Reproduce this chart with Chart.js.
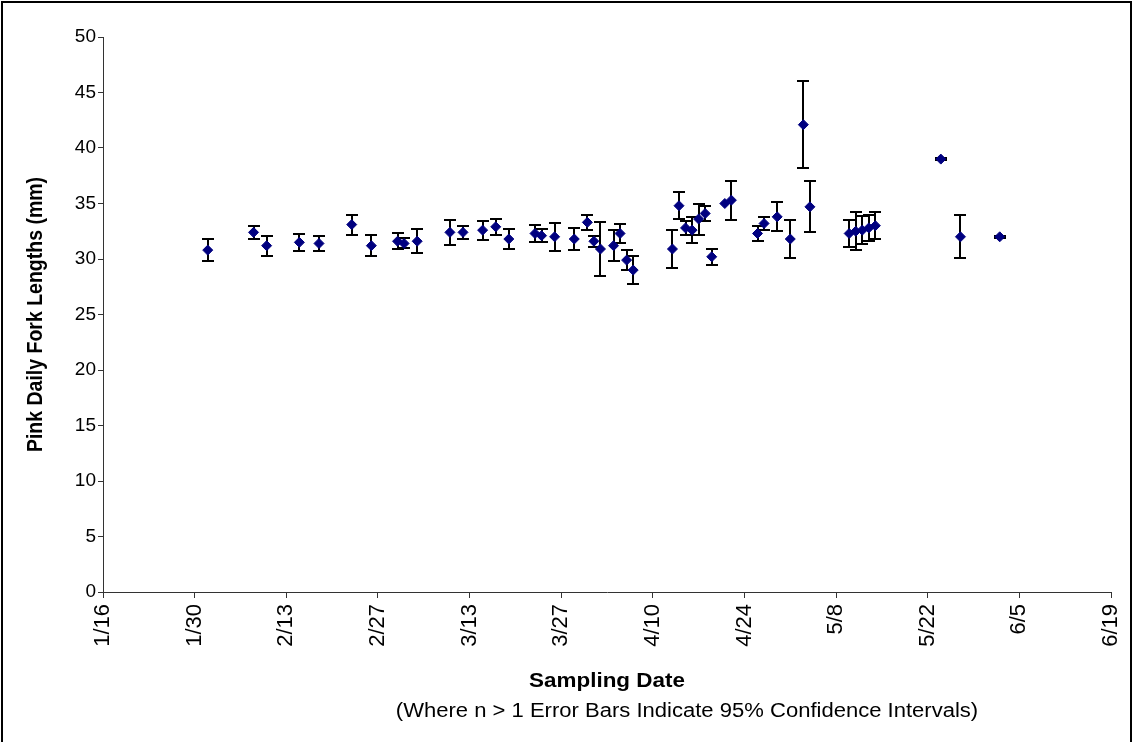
<!DOCTYPE html>
<html>
<head>
<meta charset="utf-8">
<script src="https://cdn.jsdelivr.net/npm/chart.js@4"></script>
<style>
  html, body { margin: 0; padding: 0; background: #fff; }
  canvas { display: block; }
</style>
</head>
<body>
<canvas id="chart" width="1133" height="742"></canvas>
<script>
// Daily sampling dates (m/d), mean pink fork length (mm) and 95% CI half-width (null where n = 1)
const sampleDates = ['2/1','2/8','2/10','2/15','2/18','2/23','2/26','3/2','3/3','3/5','3/10','3/12','3/15','3/17','3/19','3/23','3/24','3/26','3/29','3/31','4/1','4/2','4/4','4/5','4/6','4/7','4/13','4/14','4/15','4/16','4/17','4/18','4/19','4/21','4/22','4/26','4/27','4/29','5/1','5/3','5/4','5/10','5/11','5/12','5/13','5/14','5/24','5/27','6/2'];
const meanLengths = [30.8,32.4,31.2,31.5,31.4,33.1,31.2,31.6,31.4,31.6,32.4,32.4,32.6,32.9,31.8,32.3,32.1,32.0,31.8,33.3,31.6,30.9,31.2,32.3,29.9,29.0,30.9,34.8,32.8,32.6,33.6,34.1,30.2,35.0,35.3,32.3,33.2,33.8,31.8,42.1,34.7,32.3,32.5,32.6,32.8,33.0,39.0,32.0,32.0];
const ci95 = [1.0,0.6,0.9,0.75,0.65,0.9,0.95,0.7,0.45,1.1,1.1,0.6,0.85,0.7,0.9,0.75,0.6,1.25,0.95,0.65,0.5,2.45,1.4,0.85,0.9,1.25,1.7,1.2,0.6,1.2,1.4,0.65,0.7,null,1.75,0.7,0.6,1.3,1.7,3.9,2.3,1.25,1.7,1.25,1.2,1.2,0.1,1.95,0.1];

// Axis ticks
const xTickLabels = ['1/16','1/30','2/13','2/27','3/13','3/27','4/10','4/24','5/8','5/22','6/5','6/19'];
const yTickStep = 5;

const yTitle = 'Pink Daily Fork Lengths (mm)';
const xTitle = 'Sampling Date';
const xNote = '(Where n > 1 Error Bars Indicate 95% Confidence Intervals)';

const monthStart = [0,31,59,90,120,151,181,212,243,273,304,334];
function dayOfYear(md) {
  const [m, d] = md.split('/').map(Number);
  return monthStart[m - 1] + d;
}
function formatDay(doy) {
  let m = 0;
  while (m < 11 && doy > monthStart[m + 1]) m++;
  return (m + 1) + '/' + (doy - monthStart[m]);
}

const points = sampleDates.map((d, i) => ({ x: dayOfYear(d), y: meanLengths[i] }));

Chart.defaults.font.family = "'Liberation Sans', Arial, sans-serif";
Chart.defaults.color = '#000';

// Vertical error bars with caps, drawn beneath the markers
const errorBars = {
  id: 'errorBars',
  beforeDatasetsDraw(chart) {
    const { ctx, scales: { x, y } } = chart;
    ctx.save();
    ctx.strokeStyle = '#000';
    ctx.lineWidth = 2;
    sampleDates.forEach((d, i) => {
      const e = ci95[i];
      if (!e) return;
      const px = Math.round(x.getPixelForValue(dayOfYear(d)));
      const top = Math.round(y.getPixelForValue(meanLengths[i] + e));
      const bot = Math.round(y.getPixelForValue(meanLengths[i] - e));
      ctx.beginPath();
      ctx.moveTo(px, top); ctx.lineTo(px, bot);
      ctx.moveTo(px - 6, top); ctx.lineTo(px + 6, top);
      ctx.moveTo(px - 6, bot); ctx.lineTo(px + 6, bot);
      ctx.stroke();
    });
    ctx.restore();
  }
};

// Axis titles, footnote and outer frame
const titlesAndFrame = {
  id: 'titlesAndFrame',
  afterDraw(chart) {
    const { ctx, chartArea } = chart;
    const cx = (chartArea.left + chartArea.right) / 2;
    ctx.save();
    ctx.fillStyle = '#000';
    ctx.textAlign = 'center';
    ctx.textBaseline = 'middle';

    ctx.save();
    ctx.translate(36, (chartArea.top + chartArea.bottom) / 2);
    ctx.rotate(-Math.PI / 2);
    ctx.scale(1, 1.1);
    ctx.font = "bold 19.5px 'Liberation Sans', Arial, sans-serif";
    ctx.fillText(yTitle, 0, 0);
    ctx.restore();

    ctx.save();
    ctx.translate(cx, 682);
    ctx.scale(1.15, 1);
    ctx.font = "bold 19.5px 'Liberation Sans', Arial, sans-serif";
    ctx.fillText(xTitle, 0, 0);
    ctx.restore();

    ctx.save();
    ctx.translate(687, 712);
    ctx.scale(1.13, 1);
    ctx.font = "19.5px 'Liberation Sans', Arial, sans-serif";
    ctx.fillText(xNote, 0, 0);
    ctx.restore();

    ctx.strokeStyle = '#000';
    ctx.lineWidth = 2;
    ctx.strokeRect(2, 2, 1129, 800);
    ctx.restore();
  }
};

new Chart(document.getElementById('chart'), {
  type: 'scatter',
  data: {
    datasets: [{
      data: points,
      pointStyle: 'rectRot',
      pointRadius: 5,
      pointHoverRadius: 5,
      pointBackgroundColor: '#000080',
      pointBorderColor: '#000080',
      pointBorderWidth: 1
    }]
  },
  options: {
    responsive: false,
    animation: false,
    events: [],
    layout: { padding: { left: 0, top: 37, right: 22, bottom: 0 } },
    plugins: { legend: { display: false }, tooltip: { enabled: false } },
    scales: {
      x: {
        type: 'linear',
        min: dayOfYear(xTickLabels[0]),
        max: dayOfYear(xTickLabels[xTickLabels.length - 1]),
        afterBuildTicks(scale) {
          scale.ticks = xTickLabels.map(t => ({ value: dayOfYear(t) }));
        },
        afterFit(scale) {
          scale.height = 150;
          scale.paddingLeft = 0;
          scale.paddingRight = 0;
        },
        ticks: {
          autoSkip: false,
          minRotation: 90,
          maxRotation: 90,
          padding: 6,
          color: '#000',
          font: { size: 22 },
          callback: v => formatDay(v)
        },
        grid: { drawOnChartArea: false, tickLength: 6, color: '#333' },
        border: { color: '#333', width: 1 }
      },
      y: {
        min: 0,
        max: 50,
        afterFit(scale) {
          scale.width = 103;
          scale.paddingTop = 0;
          scale.paddingBottom = 0;
        },
        ticks: { stepSize: yTickStep, padding: 2, color: '#000', font: { size: 19 } },
        grid: { drawOnChartArea: false, tickLength: 5, color: '#333' },
        border: { color: '#333', width: 1 }
      }
    }
  },
  plugins: [errorBars, titlesAndFrame]
});
</script>
</body>
</html>
